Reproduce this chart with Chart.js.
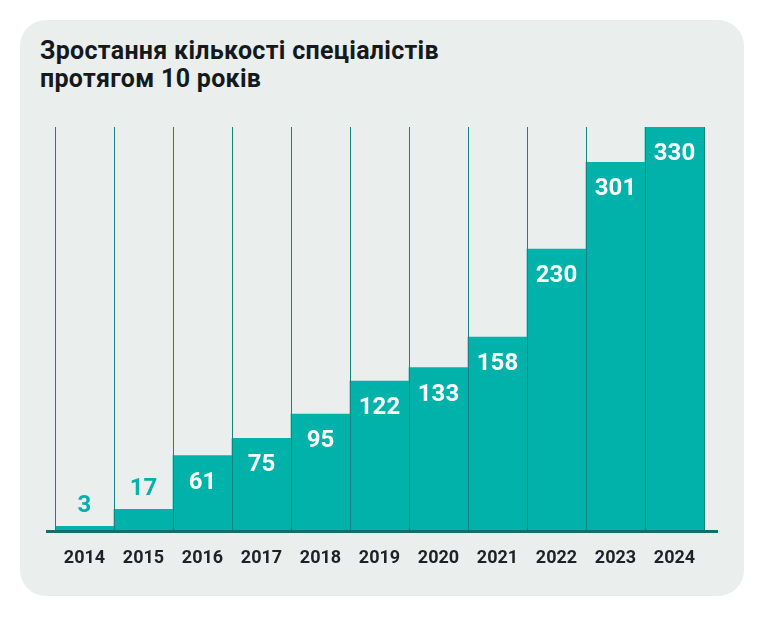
<!DOCTYPE html>
<html>
<head>
<meta charset="utf-8">
<script src="https://cdn.jsdelivr.net/npm/chart.js@4"></script>
<style>
  body { margin: 0; background: #fff; }
  .card { position: absolute; left: 20px; top: 20px; width: 724px; height: 576px; border-radius: 26px; background: #eaeeed; }
  .title { position: absolute; left: 40px; top: 37px; font: bold 25px/28px Roboto, sans-serif; letter-spacing: 0.3px; color: #15191c; }
  canvas { position: absolute; left: 0; top: 0; }
</style>
</head>
<body>
<div class="card"></div>
<div class="title">Зростання кількості спеціалістів<br>протягом 10 років</div>
<canvas id="growthChart" width="764" height="618"></canvas>
<script>
const years = ['2014', '2015', '2016', '2017', '2018', '2019', '2020', '2021', '2022', '2023', '2024'];
const specialists = [3, 17, 61, 75, 95, 122, 133, 158, 230, 301, 330];

const teal = '#00b2a9';
const lineTeal = '#13877f';

// value labels: white inside tall bars, teal above the short ones
const barLabels = {
  id: 'barLabels',
  afterDatasetsDraw(chart) {
    const ctx = chart.ctx;
    const meta = chart.getDatasetMeta(0);
    ctx.save();
    ctx.font = 'bold 24px Roboto, sans-serif';
    ctx.textAlign = 'center';
    ctx.textBaseline = 'middle';
    meta.data.forEach((bar, i) => {
      const h = bar.base - bar.y;
      if (h < 40) {
        ctx.fillStyle = teal;
        ctx.fillText(specialists[i], bar.x, bar.y - 20);
      } else {
        ctx.fillStyle = '#ffffff';
        ctx.fillText(specialists[i], bar.x, bar.y + 27);
      }
    });
    // base line
    const area = chart.chartArea;
    ctx.strokeStyle = '#0c716b';
    ctx.lineWidth = 3;
    ctx.beginPath();
    ctx.moveTo(area.left - 9, area.bottom + 1.5);
    ctx.lineTo(area.right + 14, area.bottom + 1.5);
    ctx.stroke();
    ctx.restore();
  }
};

const ctx = document.getElementById('growthChart').getContext('2d');
new Chart(ctx, {
  type: 'bar',
  data: {
    labels: years,
    datasets: [{
      data: specialists,
      backgroundColor: teal,
      borderWidth: 0,
      barPercentage: 1,
      categoryPercentage: 1
    }]
  },
  options: {
    responsive: false,
    animation: false,
    layout: { padding: { left: 55, right: 60, top: 127, bottom: 28 } },
    plugins: { legend: { display: false }, tooltip: { enabled: false } },
    scales: {
      x: {
        afterFit(scale) { scale.height = 60; },
        grid: { offset: true, color: lineTeal, lineWidth: 1, drawTicks: false, z: 1 },
        border: { display: false },
        ticks: { color: '#1d2226', padding: 18, font: { family: 'Roboto', size: 18, weight: 'bold' } }
      },
      y: { display: false, min: 0, max: 330 }
    }
  },
  plugins: [barLabels]
});
</script>
</body>
</html>
